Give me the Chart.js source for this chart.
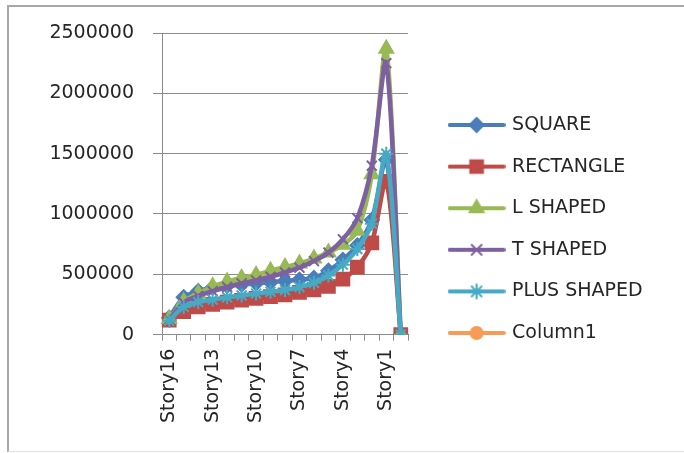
<!DOCTYPE html>
<html><head><meta charset="utf-8">
<script src="https://cdn.jsdelivr.net/npm/chart.js@4/dist/chart.umd.min.js"></script>
<style>
html,body{margin:0;padding:0;background:#fff;}
#wrap{position:relative;width:684px;height:453px;overflow:hidden;background:#fff;}
#frame{position:absolute;left:7px;top:5px;width:700px;height:444px;border-left:2px solid #a9a9a9;border-top:2px solid #a9a9a9;border-bottom:1px solid #e0e0e0;}
canvas{position:absolute;left:0;top:0;}
</style></head><body>
<div id="wrap"><div id="frame"></div><canvas id="c" width="684" height="453"></canvas></div>
<script>
const categories = ["Story16","Story15","Story14","Story13","Story12","Story11","Story10","Story9","Story8","Story7","Story6","Story5","Story4","Story3","Story2","Story1","Base"];
const square    = [140000,310000,360000,390000,405000,415000,425000,435000,445000,455000,470000,530000,620000,740000,950000,1450000,0];
const rectangle = [120000,190000,230000,250000,270000,285000,300000,315000,330000,350000,370000,400000,460000,560000,760000,1270000,0];
const lShaped   = [130000,275000,340000,400000,440000,470000,495000,530000,560000,590000,630000,680000,745000,860000,1330000,2370000,0];
const tShaped   = [125000,265000,320000,360000,395000,425000,450000,480000,515000,555000,610000,680000,790000,965000,1400000,2250000,0];
const plusShaped= [115000,230000,270000,290000,310000,325000,340000,355000,370000,395000,430000,490000,580000,710000,920000,1500000,0];
const column1   = [];
const yTicks = [0,500000,1000000,1500000,2000000,2500000];

const FONT = {family:"'DejaVu Sans', sans-serif", size:19};
const TXT = '#262626';
const GRID = '#8c8c8c';

const series = [
  {label:'SQUARE', data:square, color:'#4a7ebb', style:'rectRot', r:7, order:5},
  {label:'RECTANGLE', data:rectangle, color:'#be4b48', style:'rect', r:9, order:4},
  {label:'L SHAPED', data:lShaped, color:'#98b954', style:'triangle', r:8, order:3},
  {label:'T SHAPED', data:tShaped, color:'#7d60a0', style:'crossRot', r:7, order:2},
  {label:'PLUS SHAPED', data:plusShaped, color:'#46aac5', style:'star', r:7, order:1},
  {label:'Column1', data:column1, color:'#f59d56', style:'circle', r:6, order:0}
];

function makeIcon(s){
  const cv = document.createElement('canvas');
  cv.width = 58; cv.height = 22;
  const ctx = cv.getContext('2d');
  ctx.strokeStyle = s.color; ctx.lineWidth = 4; ctx.lineCap='round';
  ctx.beginPath(); ctx.moveTo(2,11); ctx.lineTo(56,11); ctx.stroke();
  ctx.fillStyle = s.color; ctx.strokeStyle = s.color; ctx.lineWidth = 2;
  Chart.helpers.drawPoint(ctx, {pointStyle:s.style, radius:s.r, rotation:0, borderWidth:2}, 29, 11);
  return cv;
}
const icons = series.map(makeIcon);

const datasets = series.map(s => ({
  label:s.label, data:s.data, borderColor:s.color, backgroundColor:s.color,
  pointStyle:s.style, pointRadius:s.r, pointBorderWidth:2, pointBackgroundColor:s.color,
  pointBorderColor:s.color, borderWidth:4.5, tension:0.3, order:s.order, fill:false
}));

const LEGEND_GAP = 20;
const LEGEND_RAISE = 3;
const placeLegend = {
  id:'placeLegend',
  afterLayout(chart){
    const lg = chart.legend;
    if(lg){
      lg.left = chart.chartArea.right + LEGEND_GAP;
      lg.right = chart.width;
      lg.width = lg.right - lg.left;
      lg.top -= LEGEND_RAISE;
      lg.bottom -= LEGEND_RAISE;
    }
  }
};

new Chart(document.getElementById('c'), {
  type:'line',
  data:{labels:categories, datasets},
  options:{
    responsive:false, animation:false, devicePixelRatio:1,
    layout:{padding:{top:33,left:39,right:153,bottom:22}},
    plugins:{
      tooltip:{enabled:false},
      legend:{
        position:'right', align:'center',
        labels:{
          usePointStyle:true, pointStyleWidth:52, font:FONT, color:TXT, padding:22.6,
          sort:(a,b)=>a.datasetIndex-b.datasetIndex,
          generateLabels(chart){
            const items = Chart.defaults.plugins.legend.labels.generateLabels(chart);
            items.forEach(it => { it.pointStyle = icons[it.datasetIndex]; });
            return items;
          }
        }
      }
    },
    scales:{
      x:{
        type:'category', offset:true,
        grid:{offset:true, drawOnChartArea:false, drawTicks:true, tickLength:6, color:GRID},
        border:{color:GRID, width:1},
        ticks:{autoSkip:false, minRotation:90, maxRotation:90, padding:8, font:FONT, color:TXT,
          callback:(v,i)=> (i%3===0 && i<16) ? categories[i] : ''}
      },
      y:{
        min:0, max:2500000,
        afterBuildTicks(scale){ scale.ticks = yTicks.map(v=>({value:v})); },
        grid:{color:GRID, tickLength:9, lineWidth:1},
        border:{color:GRID, width:1},
        ticks:{padding:19, font:FONT, color:TXT, callback:v=>String(v)}
      }
    }
  },
  plugins:[placeLegend]
});
</script>
</body></html>
